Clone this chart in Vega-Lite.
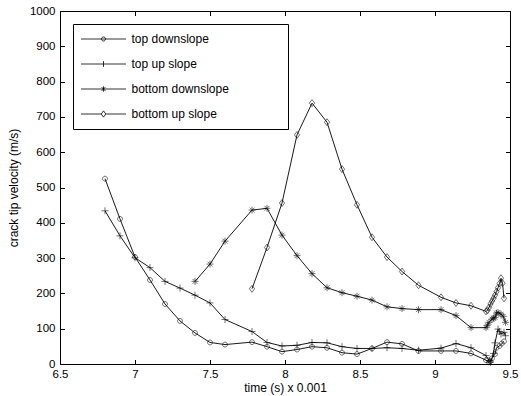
{
  "$schema": "https://vega.github.io/schema/vega-lite/v6.json",
  "width": 450,
  "height": 353,
  "autosize": "none",
  "padding": {"left": 60, "top": 11, "right": 11, "bottom": 32},
  "background": "white",
  "config": {
    "font": "Liberation Sans",
    "view": {"stroke": "black", "strokeWidth": 1},
    "axis": {
      "domain": false,
      "grid": false,
      "tickColor": "black",
      "tickWidth": 1,
      "tickSize": -4.5,
      "labelColor": "black",
      "labelFont": "Liberation Sans",
      "labelFontSize": 11.5,
      "labelFlush": false,
      "labelOverlap": false,
      "titleColor": "black",
      "titleFont": "Liberation Sans",
      "titleFontSize": 12,
      "titleFontWeight": "normal"
    }
  },
  "data": {
    "values": [
      {"s": "top downslope", "t": 6.8, "v": 525},
      {"s": "top downslope", "t": 6.9, "v": 411},
      {"s": "top downslope", "t": 7.0, "v": 303},
      {"s": "top downslope", "t": 7.1, "v": 238},
      {"s": "top downslope", "t": 7.2, "v": 170},
      {"s": "top downslope", "t": 7.3, "v": 122},
      {"s": "top downslope", "t": 7.4, "v": 88},
      {"s": "top downslope", "t": 7.5, "v": 61},
      {"s": "top downslope", "t": 7.6, "v": 55},
      {"s": "top downslope", "t": 7.78, "v": 62},
      {"s": "top downslope", "t": 7.88, "v": 49},
      {"s": "top downslope", "t": 7.98, "v": 35},
      {"s": "top downslope", "t": 8.08, "v": 41},
      {"s": "top downslope", "t": 8.18, "v": 49},
      {"s": "top downslope", "t": 8.28, "v": 46},
      {"s": "top downslope", "t": 8.38, "v": 32},
      {"s": "top downslope", "t": 8.48, "v": 28},
      {"s": "top downslope", "t": 8.58, "v": 44},
      {"s": "top downslope", "t": 8.68, "v": 62},
      {"s": "top downslope", "t": 8.78, "v": 57},
      {"s": "top downslope", "t": 8.89, "v": 37},
      {"s": "top downslope", "t": 9.04, "v": 37},
      {"s": "top downslope", "t": 9.14, "v": 37},
      {"s": "top downslope", "t": 9.24, "v": 30},
      {"s": "top downslope", "t": 9.34, "v": 11},
      {"s": "top downslope", "t": 9.36, "v": 5},
      {"s": "top downslope", "t": 9.37, "v": 8},
      {"s": "top downslope", "t": 9.38, "v": 16},
      {"s": "top downslope", "t": 9.4, "v": 28},
      {"s": "top downslope", "t": 9.41, "v": 46},
      {"s": "top downslope", "t": 9.43, "v": 51},
      {"s": "top downslope", "t": 9.445, "v": 58},
      {"s": "top downslope", "t": 9.46, "v": 64},
      {"s": "top up slope", "t": 6.8, "v": 434},
      {"s": "top up slope", "t": 6.9, "v": 363},
      {"s": "top up slope", "t": 7.0, "v": 301},
      {"s": "top up slope", "t": 7.1, "v": 273},
      {"s": "top up slope", "t": 7.2, "v": 234},
      {"s": "top up slope", "t": 7.3, "v": 215},
      {"s": "top up slope", "t": 7.4, "v": 195},
      {"s": "top up slope", "t": 7.5, "v": 173},
      {"s": "top up slope", "t": 7.6, "v": 126},
      {"s": "top up slope", "t": 7.78, "v": 92},
      {"s": "top up slope", "t": 7.88, "v": 61},
      {"s": "top up slope", "t": 7.98, "v": 51},
      {"s": "top up slope", "t": 8.08, "v": 53},
      {"s": "top up slope", "t": 8.18, "v": 61},
      {"s": "top up slope", "t": 8.28, "v": 60},
      {"s": "top up slope", "t": 8.38, "v": 49},
      {"s": "top up slope", "t": 8.48, "v": 44},
      {"s": "top up slope", "t": 8.58, "v": 44},
      {"s": "top up slope", "t": 8.68, "v": 46},
      {"s": "top up slope", "t": 8.78, "v": 44},
      {"s": "top up slope", "t": 8.89, "v": 39},
      {"s": "top up slope", "t": 9.04, "v": 45},
      {"s": "top up slope", "t": 9.14, "v": 58},
      {"s": "top up slope", "t": 9.24, "v": 46},
      {"s": "top up slope", "t": 9.34, "v": 24},
      {"s": "top up slope", "t": 9.36, "v": 10},
      {"s": "top up slope", "t": 9.37, "v": 5},
      {"s": "top up slope", "t": 9.39, "v": 30},
      {"s": "top up slope", "t": 9.4, "v": 60},
      {"s": "top up slope", "t": 9.42, "v": 99},
      {"s": "top up slope", "t": 9.43, "v": 92},
      {"s": "top up slope", "t": 9.44, "v": 85},
      {"s": "top up slope", "t": 9.46, "v": 90},
      {"s": "top up slope", "t": 9.47, "v": 80},
      {"s": "bottom downslope", "t": 7.4, "v": 234},
      {"s": "bottom downslope", "t": 7.5, "v": 283},
      {"s": "bottom downslope", "t": 7.6, "v": 348},
      {"s": "bottom downslope", "t": 7.78, "v": 436},
      {"s": "bottom downslope", "t": 7.88, "v": 441},
      {"s": "bottom downslope", "t": 7.98, "v": 365},
      {"s": "bottom downslope", "t": 8.08, "v": 307},
      {"s": "bottom downslope", "t": 8.18, "v": 256},
      {"s": "bottom downslope", "t": 8.28, "v": 216},
      {"s": "bottom downslope", "t": 8.38, "v": 202},
      {"s": "bottom downslope", "t": 8.48, "v": 192},
      {"s": "bottom downslope", "t": 8.58, "v": 181},
      {"s": "bottom downslope", "t": 8.68, "v": 162},
      {"s": "bottom downslope", "t": 8.78, "v": 157},
      {"s": "bottom downslope", "t": 8.89, "v": 154},
      {"s": "bottom downslope", "t": 9.04, "v": 154},
      {"s": "bottom downslope", "t": 9.14, "v": 137},
      {"s": "bottom downslope", "t": 9.24, "v": 103},
      {"s": "bottom downslope", "t": 9.34, "v": 103},
      {"s": "bottom downslope", "t": 9.35, "v": 110},
      {"s": "bottom downslope", "t": 9.36, "v": 118},
      {"s": "bottom downslope", "t": 9.38, "v": 127},
      {"s": "bottom downslope", "t": 9.39, "v": 130},
      {"s": "bottom downslope", "t": 9.4, "v": 132},
      {"s": "bottom downslope", "t": 9.41, "v": 144},
      {"s": "bottom downslope", "t": 9.42, "v": 146},
      {"s": "bottom downslope", "t": 9.44, "v": 141},
      {"s": "bottom downslope", "t": 9.455, "v": 135},
      {"s": "bottom downslope", "t": 9.47, "v": 118},
      {"s": "bottom up slope", "t": 7.78, "v": 213},
      {"s": "bottom up slope", "t": 7.88, "v": 330},
      {"s": "bottom up slope", "t": 7.98, "v": 456},
      {"s": "bottom up slope", "t": 8.08, "v": 649},
      {"s": "bottom up slope", "t": 8.18, "v": 739},
      {"s": "bottom up slope", "t": 8.28, "v": 685},
      {"s": "bottom up slope", "t": 8.38, "v": 552},
      {"s": "bottom up slope", "t": 8.48, "v": 451},
      {"s": "bottom up slope", "t": 8.58, "v": 359},
      {"s": "bottom up slope", "t": 8.68, "v": 303},
      {"s": "bottom up slope", "t": 8.78, "v": 262},
      {"s": "bottom up slope", "t": 8.89, "v": 223},
      {"s": "bottom up slope", "t": 9.04, "v": 189},
      {"s": "bottom up slope", "t": 9.14, "v": 173},
      {"s": "bottom up slope", "t": 9.24, "v": 165},
      {"s": "bottom up slope", "t": 9.34, "v": 149},
      {"s": "bottom up slope", "t": 9.35, "v": 152},
      {"s": "bottom up slope", "t": 9.36, "v": 160},
      {"s": "bottom up slope", "t": 9.37, "v": 170},
      {"s": "bottom up slope", "t": 9.38, "v": 178},
      {"s": "bottom up slope", "t": 9.39, "v": 186},
      {"s": "bottom up slope", "t": 9.4, "v": 195},
      {"s": "bottom up slope", "t": 9.41, "v": 205},
      {"s": "bottom up slope", "t": 9.42, "v": 216},
      {"s": "bottom up slope", "t": 9.43, "v": 228},
      {"s": "bottom up slope", "t": 9.44, "v": 243},
      {"s": "bottom up slope", "t": 9.45, "v": 229},
      {"s": "bottom up slope", "t": 9.46, "v": 186}
    ]
  },
  "layer": [
    {
      "mark": {"type": "line", "color": "black", "strokeWidth": 0.9},
      "encoding": {
        "x": {
          "field": "t", "type": "quantitative",
          "scale": {"domain": [6.5, 9.5], "nice": false, "zero": false},
          "axis": {"orient": "bottom", "values": [6.5, 7, 7.5, 8, 8.5, 9, 9.5], "format": "~g", "labelPadding": 8.5, "title": "time (s) x 0.001", "titlePadding": 3}
        },
        "y": {
          "field": "v", "type": "quantitative",
          "scale": {"domain": [0, 1000], "nice": false},
          "axis": {"orient": "left", "values": [0, 100, 200, 300, 400, 500, 600, 700, 800, 900, 1000], "format": "d", "labelPadding": 9.5, "title": "crack tip velocity (m/s)", "titlePadding": 9}
        },
        "detail": {"field": "s"}
      }
    },
    {
      "mark": {"type": "point", "filled": false, "color": "black", "strokeWidth": 0.8, "size": 49},
      "encoding": {
        "x": {
          "field": "t", "type": "quantitative",
          "axis": {"orient": "top", "values": [6.5, 7, 7.5, 8, 8.5, 9, 9.5], "labels": false, "title": null}
        },
        "y": {
          "field": "v", "type": "quantitative",
          "axis": {"orient": "right", "values": [0, 100, 200, 300, 400, 500, 600, 700, 800, 900, 1000], "labels": false, "title": null}
        },
        "shape": {
          "field": "s", "type": "nominal",
          "scale": {
            "domain": ["top downslope", "top up slope", "bottom downslope", "bottom up slope"],
            "range": [
              "M0.7,0A0.7,0.7 0 1 1 -0.7,0A0.7,0.7 0 1 1 0.7,0",
              "M-1,0H1M0,-1V1",
              "M-1,0H1M0,-1V1M-0.7,-0.7L0.7,0.7M-0.7,0.7L0.7,-0.7",
              "M0,-1L0.75,0L0,1L-0.75,0Z"
            ]
          },
          "legend": null
        }
      }
    },
    {
      "transform": [{"filter": "false"}],
      "mark": {"type": "point", "filled": false, "color": "black", "strokeWidth": 0.8},
      "encoding": {
        "shape": {
          "field": "s", "type": "nominal",
          "scale": {
            "domain": ["top downslope", "top up slope", "bottom downslope", "bottom up slope"],
            "range": [
              "M-1,0H1M0.09,0A0.09,0.09 0 1 1 -0.09,0A0.09,0.09 0 1 1 0.09,0",
              "M-1,0H1M0,-0.13V0.13",
              "M-1,0H1M0,-0.12V0.12M-0.085,-0.085L0.085,0.085M-0.085,0.085L0.085,-0.085",
              "M-1,0H-0.1M0.1,0H1M0,-0.14L0.1,0L0,0.14L-0.1,0Z"
            ]
          },
          "legend": {
            "orient": "top-left",
            "offset": 13,
            "title": null,
            "strokeColor": "black",
            "fillColor": "white",
            "padding": 7.5,
            "rowPadding": 10,
            "clipHeight": 15,
            "symbolSize": 2025,
            "symbolStrokeWidth": 0.8,
            "symbolStrokeColor": "black",
            "symbolFillColor": "transparent",
            "symbolOpacity": 1,
            "labelFont": "Liberation Sans",
            "labelFontSize": 12,
            "labelColor": "black",
            "labelOffset": 5,
            "labelLimit": 400,
            "labelExpr": "datum.label + '\u2003\u2003\u2003\u2003\u00a0\u200b'"
          }
        }
      }
    }
  ],
  "resolve": {
    "scale": {"shape": "independent"},
    "axis": {"x": "independent", "y": "independent"}
  }
}
